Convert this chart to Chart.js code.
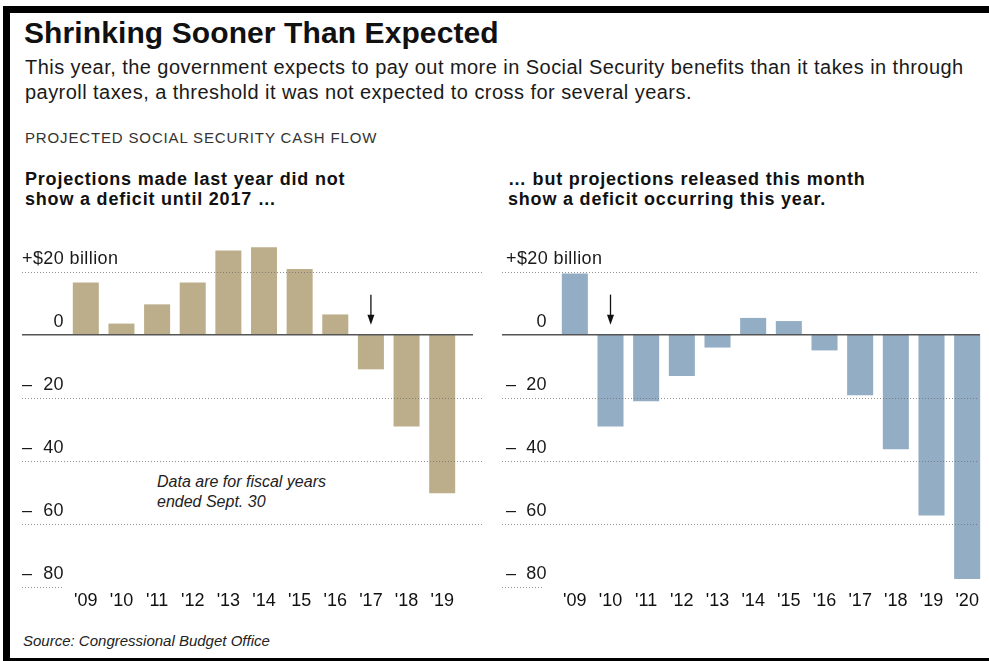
<!DOCTYPE html>
<html><head><meta charset="utf-8">
<script src="https://cdn.jsdelivr.net/npm/chart.js@4/dist/chart.umd.min.js"></script>
<style>
html,body{margin:0;padding:0}
body{width:989px;height:661px;overflow:hidden;background:#fff;position:relative;font-family:"Liberation Sans",Arial,Helvetica,sans-serif;color:#111}
.frame{position:absolute;left:3px;top:6px;width:986px;height:655px;border-left:7px solid #000;border-top:7px solid #000;border-bottom:3px solid #000;box-sizing:border-box}
canvas{position:absolute;left:0;top:0}
.t{position:absolute;white-space:nowrap}
</style></head>
<body>
<div class="frame"></div>
<div class="t" style="left:24px;top:18px;font-size:30px;line-height:30px;font-weight:bold;letter-spacing:0.1px;">Shrinking Sooner Than Expected</div>
<div class="t" style="left:25px;top:55px;font-size:20px;line-height:25px;letter-spacing:0.45px;color:#1a1a1a;">This year, the government expects to pay out more in Social Security benefits than it takes in through<br>payroll taxes, a threshold it was not expected to cross for several years.</div>
<div class="t" style="left:25px;top:129px;font-size:15px;line-height:18px;letter-spacing:0.85px;color:#333;">PROJECTED SOCIAL SECURITY CASH FLOW</div>
<div class="t" style="left:25px;top:169px;font-size:18px;line-height:20px;letter-spacing:0.8px;font-weight:bold;">Projections made last year did not<br>show a deficit until 2017 &hellip;</div>
<div class="t" style="left:508px;top:169px;font-size:18px;line-height:20px;letter-spacing:0.8px;font-weight:bold;">&hellip; but projections released this month<br>show a deficit occurring this year.</div>
<div class="t" style="left:157px;top:472px;font-size:16px;line-height:19.5px;font-style:italic;color:#222;">Data are for fiscal years<br>ended Sept. 30</div>
<div class="t" style="left:23px;top:633px;font-size:15px;line-height:16px;font-style:italic;color:#222;">Source: Congressional Budget Office</div>
<canvas id="c1" width="989" height="661"></canvas>
<canvas id="c2" width="989" height="661"></canvas>
<script>
// ---- data ----
const leftYears  = ["'09","'10","'11","'12","'13","'14","'15","'16","'17","'18","'19"];
const leftValues = [16.5, 3.5, 9.6, 16.5, 26.7, 27.7, 20.8, 6.4, -11, -29.1, -50.3];
const rightYears  = ["'09","'10","'11","'12","'13","'14","'15","'16","'17","'18","'19","'20"];
const rightValues = [19.4, -29.1, -21.1, -13.1, -4.1, 5.3, 4.3, -5, -19.2, -36.3, -57.3, -77.5];
const yTickValues = [20, 0, -20, -40, -60, -80];
const yTickLabels = ["+$20 billion", "0", "\u2013 20", "\u2013 40", "\u2013 60", "\u2013 80"];
const leftArrowYear = "'17";
const rightArrowYear = "'10";

const FONT = '"Liberation Sans", Arial, sans-serif';

const panelPlugin = {
  id: 'panel',
  afterDatasetsDraw(chart, args, o) {
    const ctx = chart.ctx, y = chart.scales.y, x = chart.scales.x;
    ctx.save();
    // dotted gridlines
    ctx.strokeStyle = 'rgba(110,110,110,0.75)';
    ctx.lineWidth = 1;
    ctx.setLineDash([1, 2]);
    yTickValues.forEach(v => {
      if (v === 0) return;
      const py = Math.round(y.getPixelForValue(v)) + 0.5;
      const right = (v === -80) ? o.gridLeft + 42 : o.gridRight;
      ctx.beginPath(); ctx.moveTo(o.gridLeft, py); ctx.lineTo(right, py); ctx.stroke();
    });
    // zero line
    ctx.setLineDash([]);
    ctx.strokeStyle = '#555';
    ctx.lineWidth = 1.5;
    const z = y.getPixelForValue(0);
    ctx.beginPath(); ctx.moveTo(o.gridLeft, z); ctx.lineTo(o.zeroRight, z); ctx.stroke();
    // tick labels
    ctx.fillStyle = '#1a1a1a';
    ctx.font = '18px ' + FONT;
    if ('letterSpacing' in ctx) ctx.letterSpacing = '0.4px';
    ctx.textBaseline = 'middle';
    yTickValues.forEach((v, i) => {
      const lab = yTickLabels[i];
      const py = y.getPixelForValue(v) - 12.5;
      if (lab.startsWith('\u2013')) {
        ctx.textAlign = 'left'; ctx.fillText('\u2013', o.labelX, py);
        ctx.textAlign = 'right'; ctx.fillText(lab.slice(1).trim(), o.digitRight, py);
      } else if (lab === '0') {
        ctx.textAlign = 'right'; ctx.fillText(lab, o.digitRight, py);
      } else {
        ctx.textAlign = 'left'; ctx.fillText(lab, o.labelX, py);
      }
    });
    if ('letterSpacing' in ctx) ctx.letterSpacing = '0px';
    // arrow
    const ax = x.getPixelForValue(chart.data.labels.indexOf(o.arrowYear));
    const top = z - 40, bot = z - 10;
    ctx.strokeStyle = '#111'; ctx.fillStyle = '#111'; ctx.lineWidth = 1.3;
    ctx.beginPath(); ctx.moveTo(ax, top); ctx.lineTo(ax, bot - 8); ctx.stroke();
    ctx.beginPath(); ctx.moveTo(ax - 3.5, bot - 10); ctx.lineTo(ax + 3.5, bot - 10); ctx.lineTo(ax, bot); ctx.closePath(); ctx.fill();
    ctx.restore();
  }
};

function makeChart(id, labels, values, color, pad, panelOpts) {
  return new Chart(document.getElementById(id), {
    type: 'bar',
    data: { labels: labels, datasets: [{ data: values, backgroundColor: color, borderWidth: 0, barPercentage: 0.73, categoryPercentage: 1 }] },
    options: {
      responsive: false, animation: false, events: [],
      layout: { padding: pad },
      plugins: { legend: { display: false }, tooltip: { enabled: false }, panel: panelOpts },
      scales: {
        x: {
          grid: { display: false, drawTicks: false }, border: { display: false },
          ticks: { color: '#111', font: { size: 18, family: FONT }, padding: 3, maxRotation: 0, autoSkip: false },
          afterFit(s) { s.height = 30; }
        },
        y: { display: false, min: -80, max: 30 }
      }
    },
    plugins: [panelPlugin]
  });
}

makeChart('c1', leftYears, leftValues, '#bcae8a', { left: 68, right: 529, top: 240, bottom: 44 },
  { gridLeft: 22, gridRight: 482, zeroRight: 473, labelX: 22, digitRight: 64, arrowYear: leftArrowYear });
makeChart('c2', rightYears, rightValues, '#93adc4', { left: 557, right: 4, top: 240, bottom: 44 },
  { gridLeft: 502, gridRight: 978, zeroRight: 980, labelX: 506, digitRight: 547, arrowYear: rightArrowYear });
</script>
</body></html>
